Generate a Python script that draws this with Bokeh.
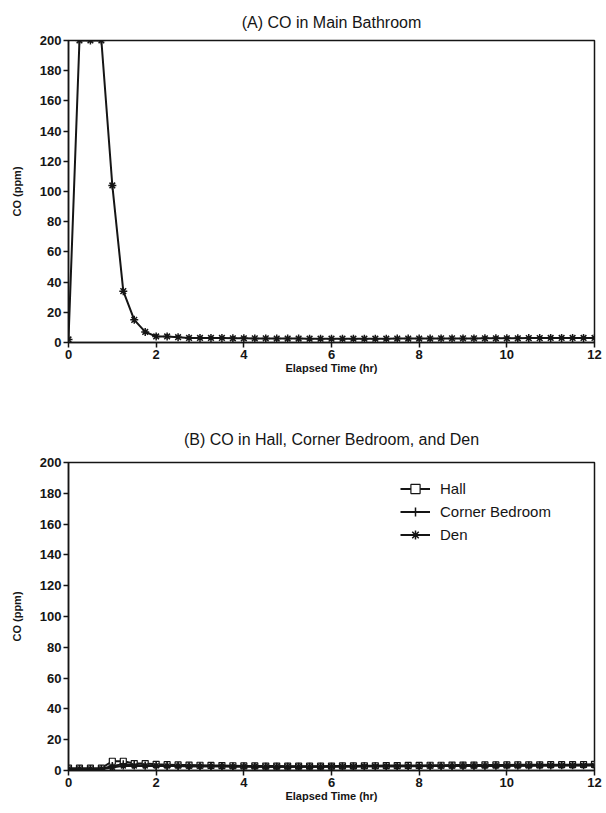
from bokeh.plotting import figure
from bokeh.layouts import column
from bokeh.models import Legend, LegendItem, FixedTicker, Range1d, Title
from bokeh.embed import file_html
from bokeh.resources import INLINE

# ---- data ----
time_hr = [0, 0.25, 0.5, 0.75, 1.0, 1.25, 1.5, 1.75, 2.0, 2.25, 2.5, 2.75,
           3.0, 3.25, 3.5, 3.75, 4.0, 4.25, 4.5, 4.75, 5.0, 5.25, 5.5, 5.75,
           6.0, 6.25, 6.5, 6.75, 7.0, 7.25, 7.5, 7.75, 8.0, 8.25, 8.5, 8.75,
           9.0, 9.25, 9.5, 9.75, 10.0, 10.25, 10.5, 10.75, 11.0, 11.25, 11.5, 11.75, 12.0]

main_bathroom = [2, 200, 200, 200, 104, 34, 15, 7, 4, 4, 3.5, 3,
                 3, 3, 3, 2.8, 2.8, 2.7, 2.7, 2.6, 2.6, 2.6, 2.5, 2.5,
                 2.5, 2.5, 2.5, 2.5, 2.5, 2.5, 2.6, 2.6, 2.6, 2.6, 2.7, 2.7,
                 2.7, 2.7, 2.8, 2.8, 2.8, 2.8, 2.9, 2.9, 3, 3, 3, 3, 3]

hall = [1.5, 1.5, 1.5, 1.5, 6, 6, 4.5, 4.5, 4, 3.8, 3.6, 3.5,
        3.4, 3.3, 3.2, 3.1, 3, 3, 2.9, 2.9, 2.8, 2.8, 2.8, 2.8,
        2.9, 3, 3, 3.1, 3.1, 3.2, 3.2, 3.3, 3.3, 3.4, 3.4, 3.5,
        3.5, 3.5, 3.6, 3.6, 3.6, 3.7, 3.7, 3.7, 3.8, 3.8, 3.8, 3.9, 4]
corner_bedroom = [1, 1, 1, 1, 3, 4, 3.5, 3.2, 3, 3, 2.9, 2.8,
                  2.8, 2.7, 2.7, 2.6, 2.6, 2.5, 2.5, 2.5, 2.4, 2.4, 2.4, 2.5,
                  2.5, 2.6, 2.6, 2.7, 2.7, 2.8, 2.8, 2.9, 2.9, 3, 3, 3,
                  3.1, 3.1, 3.1, 3.2, 3.2, 3.2, 3.3, 3.3, 3.3, 3.4, 3.4, 3.4, 3.5]
den = [1, 1, 1, 1, 2, 3, 3, 3, 3, 2.9, 2.9, 2.8,
       2.8, 2.7, 2.7, 2.6, 2.6, 2.6, 2.5, 2.5, 2.5, 2.5, 2.5, 2.5,
       2.6, 2.6, 2.6, 2.7, 2.7, 2.7, 2.8, 2.8, 2.8, 2.9, 2.9, 2.9,
       3, 3, 3, 3, 3.1, 3.1, 3.1, 3.2, 3.2, 3.2, 3.3, 3.3, 3.3]

x_ticks = [0, 2, 4, 6, 8, 10, 12]
y_ticks = [0, 20, 40, 60, 80, 100, 120, 140, 160, 180, 200]

FONT = "Liberation Sans"
INK = "#151515"


def make_fig(title, height, top, bottom, left, right, title_standoff):
    p = figure(width=606, height=height, output_backend="svg", toolbar_location=None,
               x_range=Range1d(0, 12), y_range=Range1d(0, 200),
               min_border_top=top, min_border_bottom=bottom,
               min_border_left=left, min_border_right=right)
    p.title = Title(text=title, align="center", text_font=FONT,
                    text_font_size="16px", text_font_style="normal",
                    text_color=INK, standoff=title_standoff)
    p.xgrid.visible = False
    p.ygrid.visible = False
    p.outline_line_color = INK
    p.outline_line_width = 1.5
    p.outline_line_alpha = 1
    p.background_fill_color = "white"
    p.border_fill_color = "white"
    for ax, ticks in ((p.xaxis, x_ticks), (p.yaxis, y_ticks)):
        ax.ticker = FixedTicker(ticks=ticks)
        ax.minor_tick_line_color = None
        ax.major_tick_in = 0
        ax.major_tick_out = 5
        ax.major_tick_line_color = INK
        ax.major_tick_line_width = 1.5
        ax.axis_line_color = INK
        ax.axis_line_width = 1.5
        ax.major_label_text_font = FONT
        ax.major_label_text_font_size = "13px"
        ax.major_label_text_font_style = "bold"
        ax.major_label_text_color = INK
        ax.axis_label_text_font = FONT
        ax.axis_label_text_font_size = "11px"
        ax.axis_label_text_font_style = "bold"
        ax.axis_label_text_color = INK
    p.xaxis.axis_label = "Elapsed Time (hr)"
    p.yaxis.axis_label = "CO (ppm)"
    p.xaxis.major_label_standoff = 2
    p.xaxis.axis_label_standoff = 0
    p.yaxis.major_label_standoff = 2
    p.yaxis.axis_label_standoff = 14
    return p


# Panel A
pa = make_fig("(A) CO in Main Bathroom", 406, 40, 64, 68, 12, 20)
pa.line(time_hr, main_bathroom, line_color=INK, line_width=2)
pa.scatter(time_hr, main_bathroom, marker="asterisk", size=8, line_color=INK, line_width=1.5)

# Panel B
pb = make_fig("(B) CO in Hall, Corner Bedroom, and Den", 407, 56, 43, 67, 9, 30)
l1 = pb.line(time_hr, hall, line_color=INK, line_width=2)
s1 = pb.scatter(time_hr, hall, marker="square", size=6, fill_color="white",
                line_color=INK, line_width=1.2)
l2 = pb.line(time_hr, corner_bedroom, line_color=INK, line_width=2)
s2 = pb.scatter(time_hr, corner_bedroom, marker="cross", size=8, line_color=INK, line_width=1.5)
l3 = pb.line(time_hr, den, line_color=INK, line_width=2)
s3 = pb.scatter(time_hr, den, marker="asterisk", size=7, line_color=INK, line_width=1.5)

legend = Legend(items=[LegendItem(label="Hall", renderers=[l1, s1]),
                       LegendItem(label="Corner Bedroom", renderers=[l2, s2]),
                       LegendItem(label="Den", renderers=[l3, s3])],
                location=(332, 224), border_line_color=None,
                background_fill_alpha=0, glyph_width=30, glyph_height=23,
                label_height=23, spacing=0, label_standoff=10,
                label_text_font=FONT, label_text_font_size="15px",
                label_text_color=INK, padding=10, margin=0)
pb.add_layout(legend, "center")

layout = column(pa, pb, spacing=0)
open("out.html", "w").write(file_html(layout, INLINE))
